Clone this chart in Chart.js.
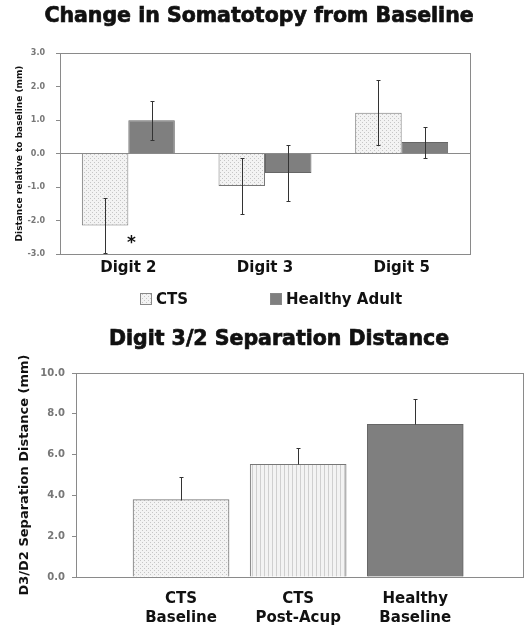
<!DOCTYPE html>
<html><head><meta charset="utf-8">
<script src="https://cdn.jsdelivr.net/npm/chart.js@4.4.1/dist/chart.umd.min.js"></script>
<style>
html,body{margin:0;padding:0;background:#fff;}
#wrap{position:relative;width:527px;height:628px;overflow:hidden;background:#fff;}
#c1{position:absolute;left:0;top:0;}
#c2{position:absolute;left:0;top:320px;}
</style></head><body>
<div id="wrap">
<canvas id="c1" width="527" height="320"></canvas>
<canvas id="c2" width="527" height="308"></canvas>
</div>
<script>
// ---------- data ----------
const digitLabels = ['Digit 2', 'Digit 3', 'Digit 5'];
const ctsChange = [-2.15, -0.97, 1.22];
const ctsChangeErr = [0.82, 0.85, 0.97];
const healthyChange = [0.99, -0.58, 0.34];
const healthyChangeErr = [0.58, 0.83, 0.46];
const sigMarks = ['*', '', ''];
const changeTicks = { min: -3, max: 3, step: 1 };

const groupLabels = [['CTS', 'Baseline'], ['CTS', 'Post-Acup'], ['Healthy', 'Baseline']];
const separation = [3.79, 5.52, 7.48];
const separationErr = [1.09, 0.80, 1.26];
const separationTicks = { min: 0, max: 10, step: 2 };

// ---------- styles ----------
const BOLD = '"DejaVu Sans", sans-serif';
const AXIS = '#8a8a8a';

function makePattern(kind) {
  const c = document.createElement('canvas');
  c.width = 4; c.height = 4;
  const g = c.getContext('2d');
  g.fillStyle = '#f3f3f3'; g.fillRect(0, 0, 4, 4);
  if (kind === 'dots') {
    g.fillStyle = '#c6c6c6'; g.fillRect(0, 0, 1, 1); g.fillRect(2, 2, 1, 1);
  } else {
    g.fillStyle = '#cfcfcf'; g.fillRect(0, 0, 1, 4);
  }
  return g.createPattern(c, 'repeat');
}
const dotFill = makePattern('dots');
const stripeFill = makePattern('stripes');
const solidFill = '#7f7f7f';

// ---------- plugins ----------
const frame = {
  id: 'frame',
  beforeDatasetsDraw(chart) {
    const { ctx, chartArea: a } = chart;
    ctx.save();
    ctx.strokeStyle = AXIS; ctx.lineWidth = 1;
    ctx.strokeRect(Math.round(a.left) + 0.5, Math.round(a.top) + 0.5,
                   Math.round(a.right - a.left), Math.round(a.bottom - a.top));
    ctx.restore();
  }
};

const errorBars = {
  id: 'errorBars',
  afterDatasetsDraw(chart, args, o) {
    const { ctx, chartArea: a } = chart;
    const ys = chart.scales.y;
    ctx.save();
    ctx.beginPath(); ctx.rect(a.left, a.top - 1, a.right - a.left, a.bottom - a.top + 1); ctx.clip();
    ctx.strokeStyle = '#333'; ctx.lineWidth = 1;
    chart.data.datasets.forEach((ds, i) => {
      if (!ds.errors) return;
      const meta = chart.getDatasetMeta(i);
      meta.data.forEach((bar, j) => {
        const raw = ds.data[j];
        const v = typeof raw === 'object' ? raw.y : raw;
        const e = ds.errors[j];
        const x = Math.round(bar.x) + 0.5;
        const yTop = Math.round(ys.getPixelForValue(v + e)) + 0.5;
        const yBot = o.upOnly ? Math.round(ys.getPixelForValue(v)) + 0.5
                              : Math.round(ys.getPixelForValue(v - e)) + 0.5;
        ctx.beginPath();
        ctx.moveTo(x, yTop); ctx.lineTo(x, yBot);
        ctx.moveTo(x - 2, yTop); ctx.lineTo(x + 2, yTop);
        if (!o.upOnly) { ctx.moveTo(x - 2, yBot); ctx.lineTo(x + 2, yBot); }
        ctx.stroke();
      });
    });
    ctx.restore();
  }
};

const titleAt = {
  id: 'titleAt',
  afterDraw(chart, args, o) {
    if (!o.text) return;
    const ctx = chart.ctx;
    ctx.save();
    ctx.font = o.font; ctx.fillStyle = '#111'; ctx.strokeStyle = '#111'; ctx.lineWidth = 0.7;
    ctx.textAlign = 'center'; ctx.textBaseline = 'middle';
    ctx.fillText(o.text, o.x, o.y);
    ctx.strokeText(o.text, o.x, o.y);
    ctx.restore();
  }
};

const boxLegend = {
  id: 'boxLegend',
  afterDraw(chart, args, o) {
    if (!o.starts) return;
    const ctx = chart.ctx;
    ctx.save();
    chart.data.datasets.forEach((ds, i) => {
      const x = o.starts[i];
      ctx.fillStyle = ds.backgroundColor;
      ctx.fillRect(x, o.y - 6, 12, 12);
      ctx.strokeStyle = '#888'; ctx.lineWidth = 1;
      ctx.strokeRect(x + 0.5, o.y - 5.5, 11, 11);
      ctx.fillStyle = '#111';
      ctx.font = 'bold 15px ' + BOLD;
      ctx.textAlign = 'left'; ctx.textBaseline = 'middle';
      ctx.fillText(ds.label, x + 16, o.y + 1);
    });
    ctx.restore();
  }
};

const marks = {
  id: 'marks',
  afterDatasetsDraw(chart, args, o) {
    if (!o.labels) return;
    const ctx = chart.ctx;
    ctx.save();
    ctx.font = 'bold 17px ' + BOLD; ctx.fillStyle = '#111';
    ctx.textAlign = 'center'; ctx.textBaseline = 'middle';
    o.labels.forEach((t, j) => {
      if (!t) return;
      const x = chart.scales.x.getPixelForValue(j) + 3;
      const y = chart.scales.y.getPixelForValue(o.yValue);
      ctx.fillText(t, x, y);
    });
    ctx.restore();
  }
};

Chart.register(frame, errorBars, titleAt, boxLegend, marks);

// ---------- chart 1 ----------
new Chart(document.getElementById('c1'), {
  type: 'bar',
  data: {
    labels: digitLabels,
    datasets: [
      { label: 'CTS', data: ctsChange, errors: ctsChangeErr,
        backgroundColor: dotFill, borderColor: '#777', borderWidth: 1 },
      { label: 'Healthy Adult', data: healthyChange, errors: healthyChangeErr,
        backgroundColor: solidFill, borderColor: '#666', borderWidth: 1 }
    ]
  },
  options: {
    responsive: false, animation: false,
    layout: { padding: { top: 53, right: 57, left: 0, bottom: 0 } },
    datasets: { bar: { categoryPercentage: 0.68, barPercentage: 1.0 } },
    plugins: {
      legend: { display: false }, tooltip: { enabled: false },
      titleAt: { text: 'Change in Somatotopy from Baseline', font: 'bold 20.5px ' + BOLD, x: 259, y: 17 },
      boxLegend: { starts: [140, 270], y: 299 },
      marks: { labels: sigMarks, yValue: -2.7 },
      errorBars: { upOnly: false }
    },
    scales: {
      x: {
        grid: { display: false, drawTicks: false },
        border: { display: true, color: AXIS },
        ticks: { font: { family: BOLD, weight: 'bold', size: 15 }, color: '#111', padding: 5 },
        afterFit(s) { s.height = 66; }
      },
      y: {
        min: changeTicks.min, max: changeTicks.max,
        ticks: { stepSize: changeTicks.step, callback: v => v.toFixed(1),
                 font: { family: BOLD, weight: 'bold', size: 8 }, color: '#777', padding: 11 },
        grid: { color: c => (c.tick && c.tick.value === 0) ? AXIS : 'rgba(0,0,0,0)',
                tickColor: AXIS, tickLength: 4 },
        border: { display: true, color: AXIS },
        title: { display: true, text: 'Distance relative to baseline (mm)',
                 font: { family: BOLD, weight: 'bold', size: 9 }, color: '#111',
                 padding: { top: 14, bottom: 0 } },
        afterFit(s) { s.width = 60; }
      }
    }
  }
});

// ---------- chart 2 ----------
new Chart(document.getElementById('c2'), {
  type: 'bar',
  data: {
    datasets: [
      { label: 'D3/D2 separation', data: separation.map((v, i) => ({ x: i + 1, y: v })),
        errors: separationErr,
        backgroundColor: [dotFill, stripeFill, solidFill],
        borderColor: ['#777', '#777', '#666'], borderWidth: 1, barThickness: 96 }
    ]
  },
  options: {
    responsive: false, animation: false,
    layout: { padding: { top: 53, right: 4, left: 0, bottom: 0 } },
    plugins: {
      legend: { display: false }, tooltip: { enabled: false },
      titleAt: { text: 'Digit 3/2 Separation Distance', font: 'bold 20.5px ' + BOLD, x: 279, y: 20 },
      errorBars: { upOnly: true }
    },
    scales: {
      x: {
        type: 'linear', offset: false, min: 0.103, max: 3.92,
        afterBuildTicks(s) { s.ticks = groupLabels.map((_, i) => ({ value: i + 1 })); },
        grid: { display: false, drawTicks: false, offset: false },
        border: { display: true, color: AXIS },
        ticks: { callback: (v) => groupLabels[v - 1] || '', autoSkip: false, maxRotation: 0,
                 font: { family: BOLD, weight: 'bold', size: 15, lineHeight: 1.27 }, color: '#111', padding: 13 },
        afterFit(s) { s.height = 51; }
      },
      y: {
        min: separationTicks.min, max: separationTicks.max,
        ticks: { stepSize: separationTicks.step, callback: v => v.toFixed(1),
                 font: { family: BOLD, weight: 'bold', size: 10 }, color: '#777', padding: 7 },
        grid: { drawOnChartArea: false, tickColor: AXIS, tickLength: 4 },
        border: { display: true, color: AXIS },
        title: { display: true, text: 'D3/D2 Separation Distance (mm)',
                 font: { family: BOLD, weight: 'bold', size: 13 }, color: '#111',
                 padding: { top: 17, bottom: 0 } },
        afterFit(s) { s.width = 76; }
      }
    }
  }
});
</script>
</body></html>
